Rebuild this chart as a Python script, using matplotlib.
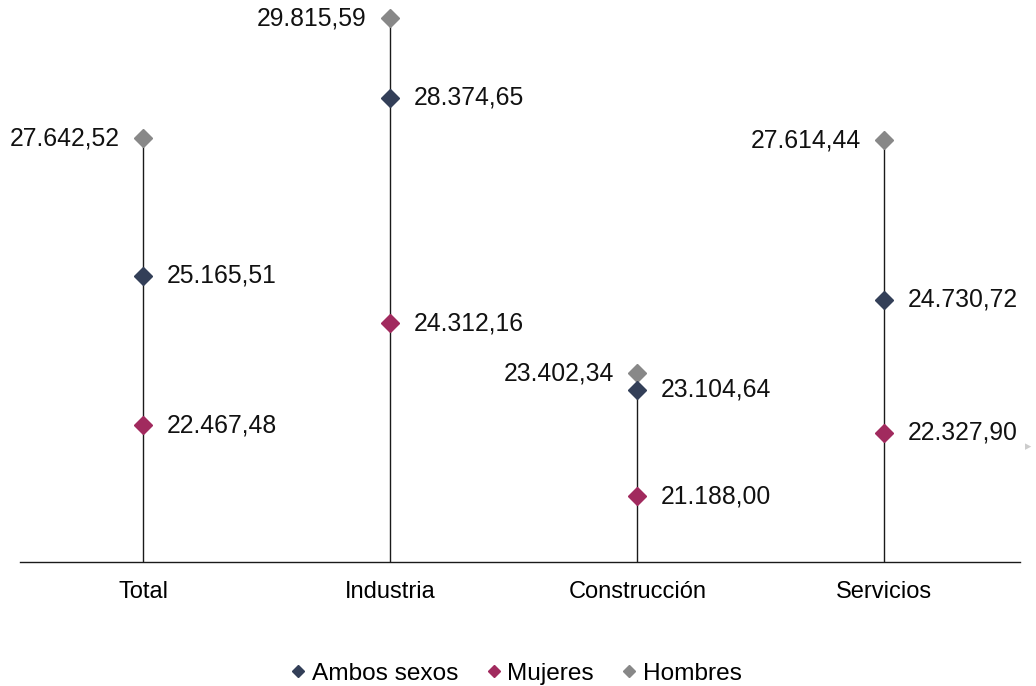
import numpy as np
import matplotlib
matplotlib.use('Agg')
import matplotlib.pyplot as plt

plt.rcParams['font.family'] = ['Liberation Sans', 'DejaVu Sans']

categories = ['Total', 'Industria', 'Construcción', 'Servicios']
ambos = [25165.51, 28374.65, 23104.64, 24730.72]
mujeres = [22467.48, 24312.16, 21188.00, 22327.90]
hombres = [27642.52, 29815.59, 23402.34, 27614.44]

c_ambos = '#333f58'
c_mujeres = '#a12a5e'
c_hombres = '#888888'


def fmt(v):
	s = '{:,.2f}'.format(v)
	return s.replace(',', 'X').replace('.', ',').replace('X', '.')


fig = plt.figure(figsize=(10.36, 6.86), dpi=100)
ax = fig.add_axes([0.0193, 0.1808, 0.9653, 0.8078])

x = np.arange(len(categories))
base = 20000
tops = np.maximum(np.maximum(ambos, mujeres), hombres)
ax.vlines(x, base, tops, color='#1a1a1a', lw=1.0, zorder=1)

ms = 9.5
ax.plot(x, ambos, 'D', color=c_ambos, ms=ms, zorder=3, label='Ambos sexos')
ax.plot(x, mujeres, 'D', color=c_mujeres, ms=ms, zorder=3, label='Mujeres')
ax.plot(x, hombres, 'D', color=c_hombres, ms=ms, zorder=2, label='Hombres')

fs = 17.8
for i in range(len(categories)):
	ax.annotate(fmt(ambos[i]), (x[i], ambos[i]), xytext=(17, 0), textcoords='offset points',
		ha='left', va='center', fontsize=fs, color='#111111')
	ax.annotate(fmt(mujeres[i]), (x[i], mujeres[i]), xytext=(17, 0), textcoords='offset points',
		ha='left', va='center', fontsize=fs, color='#111111')
	ax.annotate(fmt(hombres[i]), (x[i], hombres[i]), xytext=(-17, 0), textcoords='offset points',
		ha='right', va='center', fontsize=fs, color='#111111')

ax.set_xlim(-0.5, 3.55)
ax.set_ylim(base, 30000)
ax.set_xticks(x)
ax.set_xticklabels(categories, fontsize=17)
ax.tick_params(axis='x', length=0, pad=14)
ax.set_yticks([])
for s in ['top', 'right', 'left']:
	ax.spines[s].set_visible(False)
ax.spines['bottom'].set_color('#1a1a1a')
ax.spines['bottom'].set_linewidth(1.0)

leg = fig.legend(loc='lower center', bbox_to_anchor=(0.499, -0.03), ncol=3, frameon=False,
	fontsize=17.6, handlelength=0.5, handletextpad=0.3, columnspacing=1.2, markerscale=0.65)

# small grey arrowhead at the right edge
fig.text(0.995, 0.348, '\u25b8', color='#cccccc', fontsize=9, ha='right', va='center')

fig.savefig('out.png', dpi=100, facecolor='white')
